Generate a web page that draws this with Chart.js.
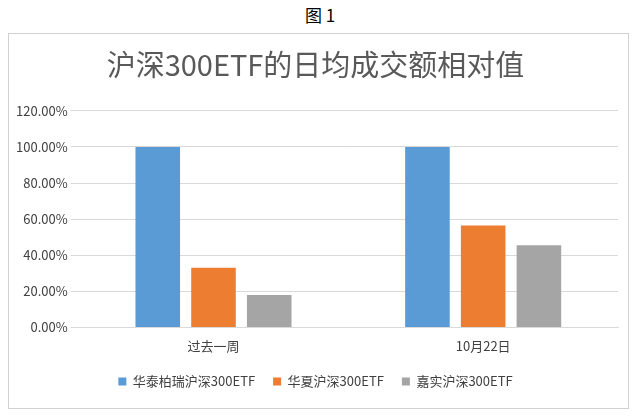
<!DOCTYPE html>
<html><head><meta charset="utf-8">
<script src="https://cdn.jsdelivr.net/npm/chart.js"></script>
<style>
body{margin:0;background:#fff;width:640px;height:419px;overflow:hidden;font-family:"Noto Sans CJK SC",sans-serif}
#cap{position:absolute;left:0;top:2px;width:640px;text-align:center;font-size:17px;color:#000}
#box{position:absolute;left:8px;top:33px;width:621px;height:376px;border:1px solid #d0d0d0;box-sizing:border-box}
</style></head><body>
<div id="cap">图 1</div>
<div id="box"><canvas id="c"></canvas></div>
<script>
const categories=["过去一周","10月22日"];
const seriesNames=["华泰柏瑞沪深300ETF","华夏沪深300ETF","嘉实沪深300ETF"];
const huatai=[100,100];
const huaxia=[33,56.5];
const jiashi=[18,45.5];
const colors=["#5B9BD5","#ED7D31","#A5A5A5"];
const F="'Noto Sans CJK SC', sans-serif";
new Chart(document.getElementById('c'),{type:'bar',
data:{labels:categories,datasets:[huatai,huaxia,jiashi].map((d,i)=>({label:seriesNames[i],data:d,backgroundColor:colors[i],barPercentage:0.8,categoryPercentage:0.62}))},
options:{responsive:true,maintainAspectRatio:false,animation:false,
layout:{padding:{left:4,right:10,top:4,bottom:10}},
plugins:{title:{display:true,text:"沪深300ETF的日均成交额相对值",font:{family:F,size:29,weight:'normal'},color:'#595959',padding:{top:10,bottom:28}},
legend:{position:'bottom',labels:{boxWidth:8,boxHeight:8,font:{family:F,size:13},color:'#404040',padding:18}},tooltip:{enabled:false}},
scales:{x:{grid:{display:false},border:{color:'#d9d9d9'},ticks:{font:{family:F,size:13},color:'#404040'}},
y:{min:0,max:120,ticks:{stepSize:20,callback:v=>v.toFixed(2)+'%',font:{family:F,size:13},color:'#404040'},grid:{color:'#d9d9d9'},border:{display:false}}}}});
</script></body></html>
